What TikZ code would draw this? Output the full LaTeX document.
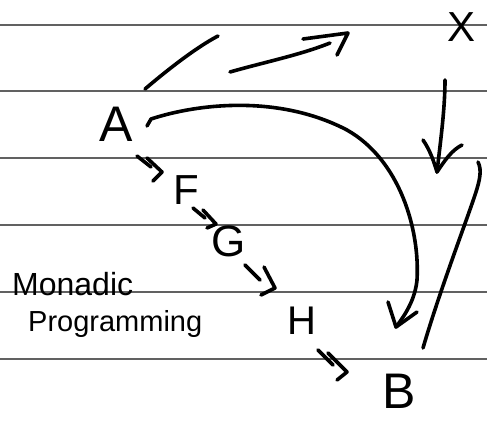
\documentclass[tikz,border=0pt]{standalone}
\usepackage{fontspec}
\setmainfont{Liberation Sans}
\begin{document}
\begin{tikzpicture}[x=1pt,y=-1pt,
  pen/.style={line width=3.6pt, line cap=round, line join=round},
  rule/.style={line width=1.2pt, black!62},
  letter/.style={inner sep=0pt, font=\fontsize{#1}{#1}\selectfont}]
\useasboundingbox (0,0) rectangle (487,421);
\fill[white] (0,0) rectangle (487,421);
\foreach \yy in {25,91,158,225,292,359} \draw[rule] (0,\yy) -- (487,\yy);

% letters
\node[letter=50] (A) at (116,124) {A};
\node[letter=42] (X) at (462,27) {X};
\node[letter=42] (F) at (186,190) {F};
\node[letter=44] (G) at (229,241) {G};
\node[letter=40] (H) at (302,321) {H};
\node[letter=50] (B) at (399,391) {B};
\node[letter=32, anchor=base west] (mon) at (12,295) {Monadic};
\node[letter=29, anchor=base west] (prog) at (28,331) {Programming};

% A to X (two strokes)
\coordinate (ax1) at (145,89);
\coordinate (ax2) at (218,36);
\coordinate (ax3) at (230,72);
\coordinate (ax4) at (330,43);
\coordinate (axtip) at (348,33);
\draw[pen] (ax1) .. controls (165,72) and (195,48) .. (ax2);
\draw[pen] (ax3) .. controls (265,62) and (300,55) .. (ax4);
\draw[pen] (303,39) -- (axtip) -- (337,55);

% A to B big arc
\coordinate (ab1) at (147,126);
\coordinate (abtip) at (396,327);
\draw[pen] (ab1) -- (151,119) .. controls (200,103) and (280,95) .. (347,130)
  .. controls (400,160) and (420,230) .. (417,280)
  .. controls (415,300) and (405,315) .. (abtip);
\draw[pen] (388,302) -- (abtip) -- (417,312);

% X down arrow
\coordinate (xd1) at (445,80);
\coordinate (xdtip) at (437,172);
\draw[pen] (xd1) .. controls (445,110) and (440,145) .. (xdtip);
\draw[pen] (423,140) .. controls (430,150) and (434,162) .. (xdtip)
  .. controls (445,160) and (452,150) .. (462,145);

% long line up from B
\coordinate (bl1) at (478,162);
\coordinate (bl2) at (423,348);
\draw[pen] (bl1) .. controls (482,170) and (480,180) .. (475,195)
  .. controls (465,225) and (440,290) .. (bl2);

% double arrows A=>F=>G=>H=>B
\draw[pen] (137,156) -- (151,167);
\draw[pen] (147,158) -- (162,172) -- (153,181);
\draw[pen] (193,208) -- (205,218);
\draw[pen] (203,210) -- (216,224) -- (207,228);
\draw[pen] (245,265) -- (260,280);
\draw[pen] (264,267) -- (275,288) -- (261,295);
\draw[pen] (318,350) -- (333,365);
\draw[pen] (328,353) -- (347,372) -- (337,380);
\end{tikzpicture}
\end{document}
